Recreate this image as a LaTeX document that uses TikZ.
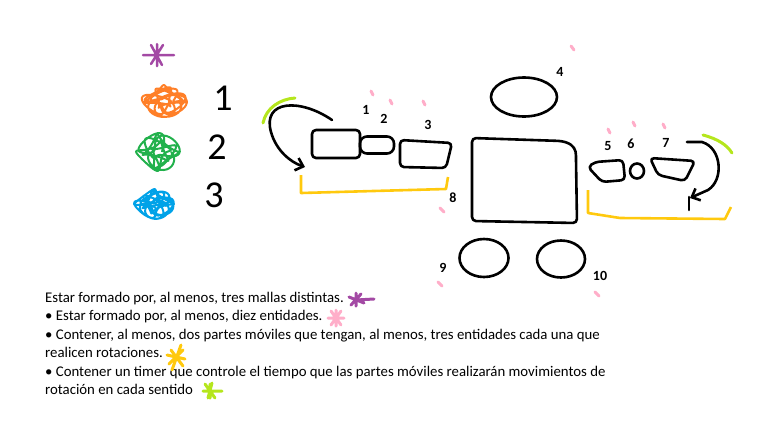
\documentclass[tikz,border=0pt]{standalone}
\usepackage{fontspec}
\setmainfont{Carlito}
\usetikzlibrary{arrows.meta,shapes.geometric}
\definecolor{Ink}{HTML}{000000}
\definecolor{Purple}{HTML}{A349A4}
\definecolor{Orange}{HTML}{FF7F27}
\definecolor{Green}{HTML}{22B14C}
\definecolor{Sky}{HTML}{00A2E8}
\definecolor{Pink}{HTML}{FFAEC9}
\definecolor{Gold}{HTML}{FFC90E}
\definecolor{Lime}{HTML}{B5E61D}
\tikzset{part/.style={draw=Ink,line width=2.6pt,rounded corners=4pt,line join=round,inner sep=0pt},ring/.style={ellipse,draw=Ink,line width=2.6pt,inner sep=0pt},num/.style={font=\fontsize{14}{14}\selectfont\bfseries,inner sep=0pt},key/.style={font=\fontsize{38}{38}\selectfont,inner sep=0pt},tick/.style={draw=Pink,line width=3pt,line cap=round},bracket/.style={draw=Gold,line width=2.6pt,line join=round},turn/.style={draw=Ink,line width=2.6pt,line cap=round,-{Straight Barb[length=7pt,width=13pt]}},glow/.style={draw=Lime,line width=3pt,line cap=round},scrib/.style={line width=2pt,line join=round},star/.style={line width=3pt,line cap=round}}
\begin{document}
\begin{tikzpicture}[x=1pt,y=-1pt]
\useasboundingbox (0,0) rectangle (776,432);
\draw[Purple,star,line width=2.5pt] (143,55)--(174,55) (151,45)--(162,65) (163,45)--(151,64) (157,44)--(157,66);
\draw[Orange,scrib] plot[domain=0:2520,samples=300,smooth] ({164+(14+9*sin(1.37*\x))*cos(\x)},{101+(9+7*sin(1.19*\x))*sin(\x)});
\draw[Green,scrib] plot[domain=0:2160,samples=260,smooth] ({158+(13+9*sin(1.29*\x))*cos(\x)},{152+(11+8*sin(1.43*\x))*sin(\x)});
\draw[Sky,scrib] plot[domain=0:2880,samples=320,smooth] ({154+(12+8*sin(1.31*\x))*cos(\x)},{204+(8+7*sin(1.17*\x))*sin(\x)});
\node[key] (k1) at (223,98) {1};
\node[key] (k2) at (217,147) {2};
\node[key] (k3) at (214,195) {3};
\node[part,minimum width=48pt,minimum height=28pt] (a1) at (336,144) {};
\node[part,minimum width=34pt,minimum height=17pt,rounded corners=7pt] (a2) at (377,145) {};
\draw[part] (400,140)--(452,143)--(446,168)--(400,167)--cycle;
\node[num] (n1) at (366,110) {1};
\node[num] (n2) at (384,119) {2};
\node[num] (n3) at (428,125) {3};
\draw[tick] (371,91)--(373,95) (390,100)--(392,104) (423,101)--(425,105);
\draw[turn] (332,120) .. controls (300,98) and (262,100) .. (271,132) .. controls (276,150) and (290,162) .. (305,167);
\draw[glow] (263,123) .. controls (266,108) and (280,99) .. (295,98);
\draw[bracket] (301,175)--(301,193)--(446,189)--(448,177);
\node[num] (n8) at (453,198) {8};
\draw[tick] (440,208)--(444,212);
\draw[part] (472,138)--(562,141) .. controls (574,145) and (576,150) .. (576,160)--(577,223)--(472,221)--cycle;
\node[ring,minimum width=66pt,minimum height=39pt] (e4) at (524,97) {};
\node[num] (n4) at (560,72) {4};
\draw[tick] (571,46)--(574,50);
\node[ring,minimum width=49pt,minimum height=38pt] (e9) at (484,258) {};
\node[ring,minimum width=48pt,minimum height=37pt] (e10) at (561,259) {};
\node[num] (n9) at (443,268) {9};
\node[num] (n10) at (600,276) {10};
\draw[tick] (438,282)--(442,286) (595,292)--(599,296);
\draw[part] (588,167)--(595,162)--(623,160)--(625,180)--(602,182)--cycle;
\node[ring,minimum width=14pt,minimum height=15pt] (e6) at (637,171) {};
\draw[part] (650,158)--(695,161)--(685,181)--(658,175)--cycle;
\node[num] (n5) at (608,146) {5};
\node[num] (n6) at (631,144) {6};
\node[num] (n7) at (666,143) {7};
\draw[tick] (608,129)--(610,133) (633,122)--(635,126) (663,124)--(665,128);
\draw[turn] (687,142)--(702,142) .. controls (722,148) and (724,180) .. (708,190)--(690,198);
\draw[Ink,line width=2.6pt,line cap=round] (689,197)--(689,210);
\draw[glow] (703,135) .. controls (718,139) and (727,145) .. (732,153);
\draw[bracket] (588,190)--(588,213)--(620,218)--(725,219)--(731,207);
\node[anchor=north west,align=left,inner sep=0pt,font=\fontsize{14.8}{18.5}\selectfont] (txt) at (45,292) {Estar formado por, al menos, tres mallas distintas.\\
• Estar formado por, al menos, diez entidades.\\
• Contener, al menos, dos partes móviles que tengan, al menos, tres entidades cada una que\\
realicen rotaciones.\\
• Contener un timer que controle el tiempo que las partes móviles realizarán movimientos de\\
rotación en cada sentido};
\draw[Purple,star] (349,297)--(364,303) (351,305)--(361,294) (356,293)--(356,306) (356,300)--(374,299);
\draw[Pink,star] (328,318)--(344,318) (331,311)--(341,325) (341,311)--(331,325) (336,310)--(336,326);
\draw[Gold,star] (181,345)--(172,370) (167,355)--(185,359) (169,364)--(183,350) (171,350)--(183,366);
\draw[Lime,star] (203,391)--(222,391) (205,384)--(215,398) (212,383)--(208,398) (210,384)--(210,398);
\end{tikzpicture}
\end{document}
